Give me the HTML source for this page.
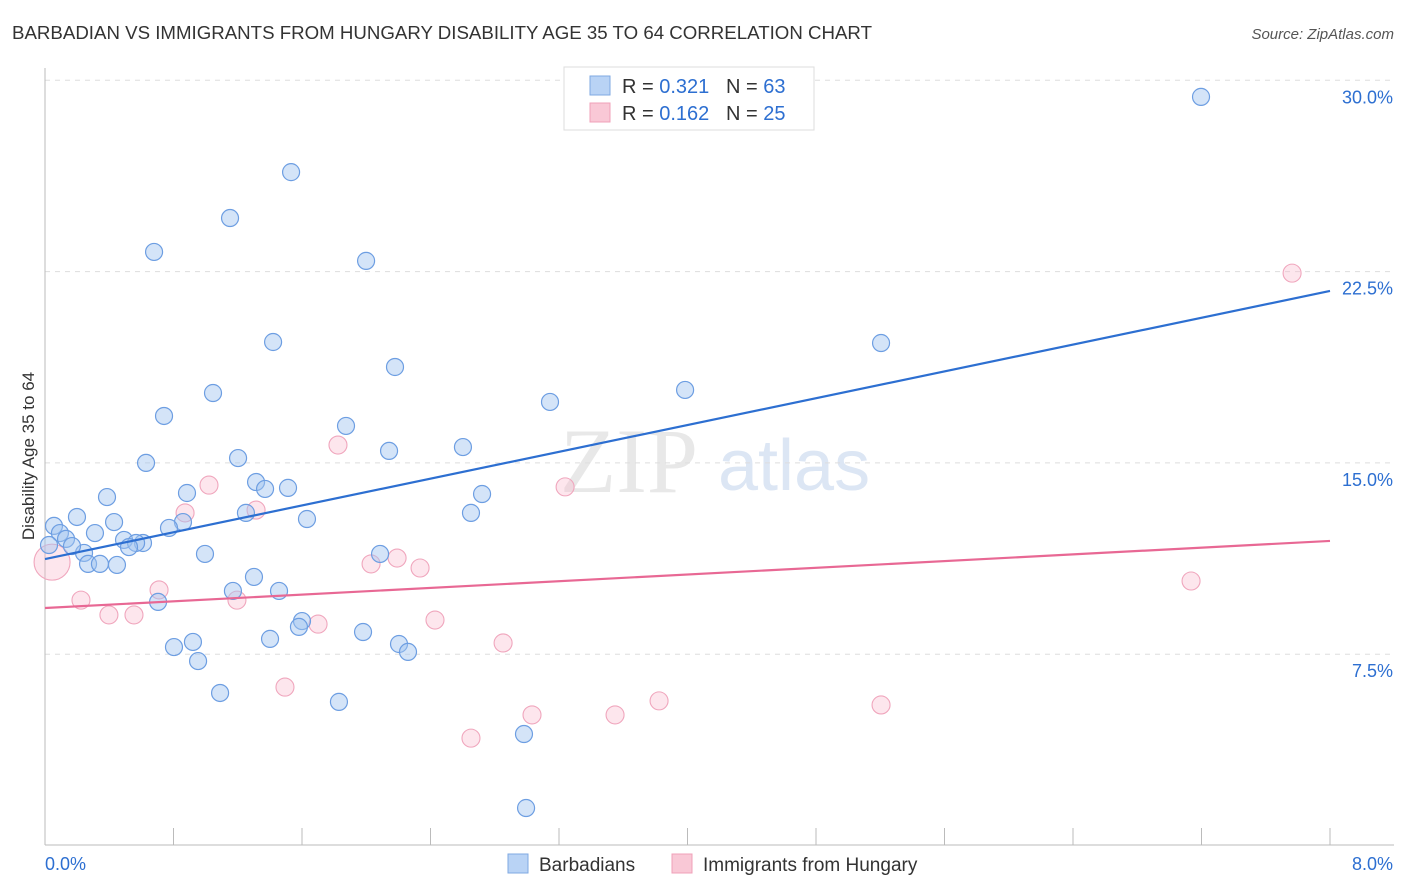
<!DOCTYPE html>
<html><head><meta charset="utf-8"><style>
body{margin:0;background:#fff;font-family:"Liberation Sans",sans-serif;}
#wrap{position:relative;width:1406px;height:892px;overflow:hidden}
</style></head><body>
<div id="wrap">
<svg id="svg" width="1406" height="892">
<text x="12" y="39" font-size="18" fill="#333" textLength="860" lengthAdjust="spacingAndGlyphs">BARBADIAN VS IMMIGRANTS FROM HUNGARY DISABILITY AGE 35 TO 64 CORRELATION CHART</text>
<text x="1394" y="39" font-size="15" fill="#555" font-style="italic" text-anchor="end">Source: ZipAtlas.com</text>
<text x="34" y="456" font-size="17" fill="#333" text-anchor="middle" transform="rotate(-90 34 456)">Disability Age 35 to 64</text>
<text x="560" y="492" font-size="92" fill="#e8e8e8" font-family="Liberation Serif,serif">ZIP</text>
<text x="718" y="490" font-size="72" fill="#dce6f4">atlas</text>
<g id="grid"></g><g id="pts"></g><g id="lines"></g>
<g>
<rect x="564" y="67" width="250" height="63" fill="#fff" stroke="#ddd"/>
<rect x="590" y="76" width="20" height="19" fill="#b9d3f5" stroke="#7fa8e2"/>
<rect x="590" y="103" width="20" height="19" fill="#f9c8d6" stroke="#f0a0b8"/>
<text x="622" y="93" font-size="20" fill="#333">R = <tspan fill="#2d6fd1">0.321</tspan></text>
<text x="726" y="93" font-size="20" fill="#333">N = <tspan fill="#2d6fd1">63</tspan></text>
<text x="622" y="120" font-size="20" fill="#333">R = <tspan fill="#2d6fd1">0.162</tspan></text>
<text x="726" y="120" font-size="20" fill="#333">N = <tspan fill="#2d6fd1">25</tspan></text>
</g>
<g>
<rect x="508" y="854" width="20" height="19" fill="#b9d3f5" stroke="#7fa8e2"/>
<text x="539" y="871" font-size="19" fill="#333">Barbadians</text>
<rect x="672" y="854" width="20" height="19" fill="#f9c8d6" stroke="#f0a0b8"/>
<text x="703" y="871" font-size="19" fill="#333">Immigrants from Hungary</text>
</g>
</svg>
</div>
<script>
const blueX=[7.197,1.532,1.152,0.679,1.999,1.420,5.205,2.179,3.985,1.046,3.144,0.741,1.874,2.602,2.142,1.202,0.629,1.314,1.370,1.513,0.884,0.386,2.721,2.652,1.251,0.199,1.631,0.430,0.859,0.056,0.772,0.093,0.311,0.131,0.492,0.610,0.567,0.523,0.025,0.243,0.168,0.996,2.086,0.268,0.342,0.448,1.301,1.170,1.457,0.704,1.600,1.581,1.980,1.401,0.921,0.803,2.204,2.260,0.953,1.090,1.830,2.982,2.995];
const blueY=[29.35,26.40,24.60,23.27,22.92,19.74,19.70,18.76,17.86,17.74,17.39,16.84,16.45,15.62,15.47,15.19,15.00,14.25,13.98,14.02,13.82,13.66,13.78,13.04,13.04,12.88,12.80,12.68,12.68,12.53,12.45,12.25,12.25,12.02,11.98,11.86,11.86,11.70,11.78,11.47,11.74,11.43,11.43,11.04,11.04,11.00,10.53,9.98,9.98,9.55,8.80,8.57,8.37,8.10,7.98,7.78,7.90,7.59,7.23,5.98,5.63,4.37,1.47];
const pinkX=[7.764,1.824,1.021,3.238,1.314,0.872,2.192,2.030,2.335,7.135,0.710,0.224,1.195,0.398,0.554,1.700,2.428,2.852,1.494,3.823,5.205,3.032,3.549,2.652,0.044];
const pinkY=[22.44,15.70,14.13,14.06,13.15,13.04,11.27,11.04,10.88,10.37,10.02,9.62,9.62,9.04,9.04,8.68,8.84,7.94,6.21,5.67,5.51,5.12,5.12,4.21,11.11];
const pinkR=[9,9,9,9,9,9,9,9,9,9,9,9,9,9,9,9,9,9,9,9,9,9,9,9,18];
const blueTrend=[11.23,21.74];
const pinkTrend=[9.31,11.94];
const yTicks=[7.5,15,22.5,30];
const xTickLabels=["0.0%","8.0%"];
const NS="http://www.w3.org/2000/svg";
const sx=v=>45+v/8*1285;
const sy=v=>845.5-v/7.5*191.3;
function mk(tag,attrs,parent){const e=document.createElementNS(NS,tag);for(const k in attrs)e.setAttribute(k,attrs[k]);parent.appendChild(e);return e;}
const grid=document.getElementById('grid'),pts=document.getElementById('pts'),lines=document.getElementById('lines');
yTicks.forEach(t=>{
 const l=mk('line',{x1:45,x2:1394,y1:sy(t),y2:sy(t),stroke:'#ddd','stroke-dasharray':'5,5'},grid);
 
 
 const tx=mk('text',{x:1393,y:sy(t)+23,'font-size':18,fill:'#2d6fd1','text-anchor':'end'},grid);
 tx.textContent=t.toFixed(1)+'%';
 
 
});
const ax=mk('line',{x1:45,x2:45,y1:68,y2:845,stroke:'#bbb'},grid);


const bx=mk('line',{x1:45,x2:1394,y1:845,y2:845,stroke:'#bbb'},grid);


for(let i=0;i<=10;i++){
 const tk=mk('line',{x1:sx(i*0.8),x2:sx(i*0.8),y1:828,y2:845,stroke:'#bbb'},grid);
 
 
}
xTickLabels.forEach((s,i)=>{
 const tx=mk('text',{x:i?1393:45,y:870,'font-size':18,fill:'#2d6fd1','text-anchor':i?'end':'start'},grid);
 tx.textContent=s;
 
 
});
pinkX.forEach((x,i)=>{
 const c=mk('circle',{cx:sx(x),cy:sy(pinkY[i]),r:pinkR[i],fill:'rgba(248,182,202,0.35)',stroke:'#f0a6bd','stroke-width':1.1},pts);
 
 
});
blueX.forEach((x,i)=>{
 const c=mk('circle',{cx:sx(x),cy:sy(blueY[i]),r:8.5,fill:'rgba(160,196,240,0.45)',stroke:'#6d9ee2','stroke-width':1.2},pts);
 
 
});
const bl=mk('line',{x1:sx(0),y1:sy(blueTrend[0]),x2:sx(8),y2:sy(blueTrend[1]),stroke:'#2d6fd1','stroke-width':2.2},lines);


const pl=mk('line',{x1:sx(0),y1:sy(pinkTrend[0]),x2:sx(8),y2:sy(pinkTrend[1]),stroke:'#e86894','stroke-width':2.2},lines);


</script>
</body></html>
